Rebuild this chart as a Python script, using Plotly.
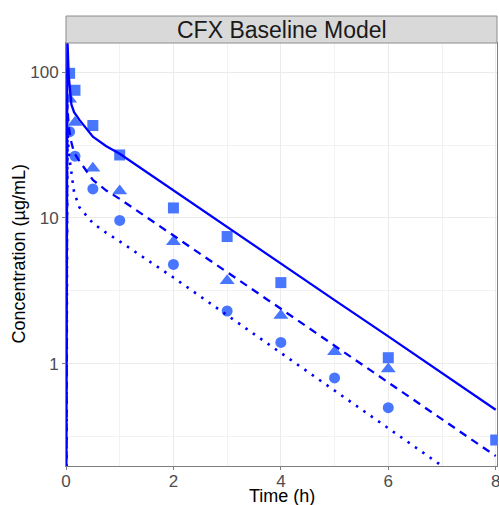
import plotly.graph_objects as go

# Observed data
sq_time = [0.067, 0.167, 0.5, 1, 2, 3, 4, 6, 8]
sq_conc = [98, 75, 43, 27, 11.7, 7.45, 3.6, 1.1, 0.30]
tri_time = [0.067, 0.167, 0.5, 1, 2, 3, 4, 5, 6]
tri_conc = [65, 45, 21.9, 15.3, 6.85, 3.7, 2.14, 1.21, 0.92]
circ_time = [0.067, 0.167, 0.5, 1, 2, 3, 4, 5, 6]
circ_conc = [39, 26.5, 15.8, 9.6, 4.8, 2.3, 1.40, 0.80, 0.50]

# Model predictions
model_time = [0, 0.025, 0.05, 0.1, 0.15, 0.25, 0.5, 0.75, 1, 2, 3, 4, 5, 6, 7, 8]
model_solid = [0.01, 175, 95, 60, 53, 47, 36, 31, 27.5, 15.4, 8.66, 4.86, 2.73, 1.54, 0.862, 0.484]
model_dashed = [0.01, 60, 42, 33, 28, 24.5, 18.2, 15.4, 13.5, 7.6, 4.25, 2.38, 1.33, 0.745, 0.417, 0.233]
model_dotted = [0.01, 40, 28, 20, 15, 11.8, 9.2, 7.9, 6.9, 3.9, 2.15, 1.19, 0.66, 0.365, 0.2, 0.11]

x_ticks = [0, 2, 4, 6, 8]
y_ticks = [1, 10, 100]
y_ticktext = ["1", "10", "100"]

PT = "#4876FF"
LN = "#0000FF"

fig = go.Figure()
fig.add_trace(go.Scatter(x=sq_time, y=sq_conc, mode="markers",
                         marker=dict(symbol="square", size=11, color=PT)))
fig.add_trace(go.Scatter(x=tri_time, y=tri_conc, mode="markers",
                         marker=dict(symbol="triangle-up", size=13, color=PT)))
fig.add_trace(go.Scatter(x=circ_time, y=circ_conc, mode="markers",
                         marker=dict(symbol="circle", size=11, color=PT)))
fig.add_trace(go.Scatter(x=model_time, y=model_solid, mode="lines",
                         line=dict(color=LN, width=2.3)))
fig.add_trace(go.Scatter(x=model_time, y=model_dashed, mode="lines",
                         line=dict(color=LN, width=2.3, dash="8px,6px")))
fig.add_trace(go.Scatter(x=model_time, y=model_dotted, mode="lines",
                         line=dict(color=LN, width=2.6, dash="2.5px,6.5px")))

font = "Liberation Sans, Arial, sans-serif"
fig.update_layout(
    width=499, height=505,
    margin=dict(l=66, r=2, t=43, b=39, autoexpand=False),
    paper_bgcolor="white", plot_bgcolor="white",
    showlegend=False,
    font=dict(family=font, color="#4D4D4D", size=17),
    xaxis=dict(range=[0, 8.024], tickvals=x_ticks, showgrid=True,
               automargin=False, ticklabeloverflow="allow",
               ticklabelstandoff=-3,
               gridcolor="#EBEBEB", gridwidth=1,
               minor=dict(tickvals=[1, 3, 5, 7], showgrid=True,
                          gridcolor="#F2F2F2", gridwidth=0.8),
               showline=True, linecolor="#7F7F7F", linewidth=1, mirror=True,
               ticks="outside", ticklen=3, tickcolor="#7F7F7F",
               tickfont=dict(size=17, color="#4D4D4D"), zeroline=False),
    yaxis=dict(type="log", range=[-0.701, 2.199], tickvals=y_ticks,
               automargin=False,
               ticktext=y_ticktext, showgrid=True, gridcolor="#EBEBEB",
               gridwidth=1,
               minor=dict(tickvals=[0.316, 3.16, 31.6], showgrid=True,
                          gridcolor="#F2F2F2", gridwidth=0.8),
               showline=True, linecolor="#7F7F7F", linewidth=1, mirror=True,
               ticks="outside", ticklen=3, tickcolor="#7F7F7F",
               tickfont=dict(size=17, color="#4D4D4D"), zeroline=False),
)

# Facet strip
fig.add_shape(type="rect", xref="paper", yref="paper",
              x0=0, x1=1, y0=1.0, y1=1 + 27 / 423,
              fillcolor="#D9D9D9", line=dict(color="#8C8C8C", width=1))
fig.add_annotation(text="CFX Baseline Model", xref="paper", yref="paper",
                   x=0.5, y=1 + 13.5 / 423, showarrow=False,
                   xanchor="center", yanchor="middle",
                   font=dict(family=font, size=23, color="#1A1A1A"))
# Axis titles
fig.add_annotation(text="Time (h)", xref="paper", yref="paper",
                   x=0.5, y=0, yshift=-29.5, showarrow=False,
                   xanchor="center", yanchor="middle",
                   font=dict(family=font, size=18, color="#000000"))
fig.add_annotation(text="Concentration (µg/mL)", xref="paper", yref="paper",
                   x=0, y=0.5, xshift=-48, showarrow=False, textangle=-90,
                   xanchor="center", yanchor="middle",
                   font=dict(family=font, size=18, color="#000000"))

fig.write_html("out.html",
               config={"displayModeBar": False},
               post_script="document.body.style.margin='0px';"
                           "document.body.style.overflow='hidden';")
